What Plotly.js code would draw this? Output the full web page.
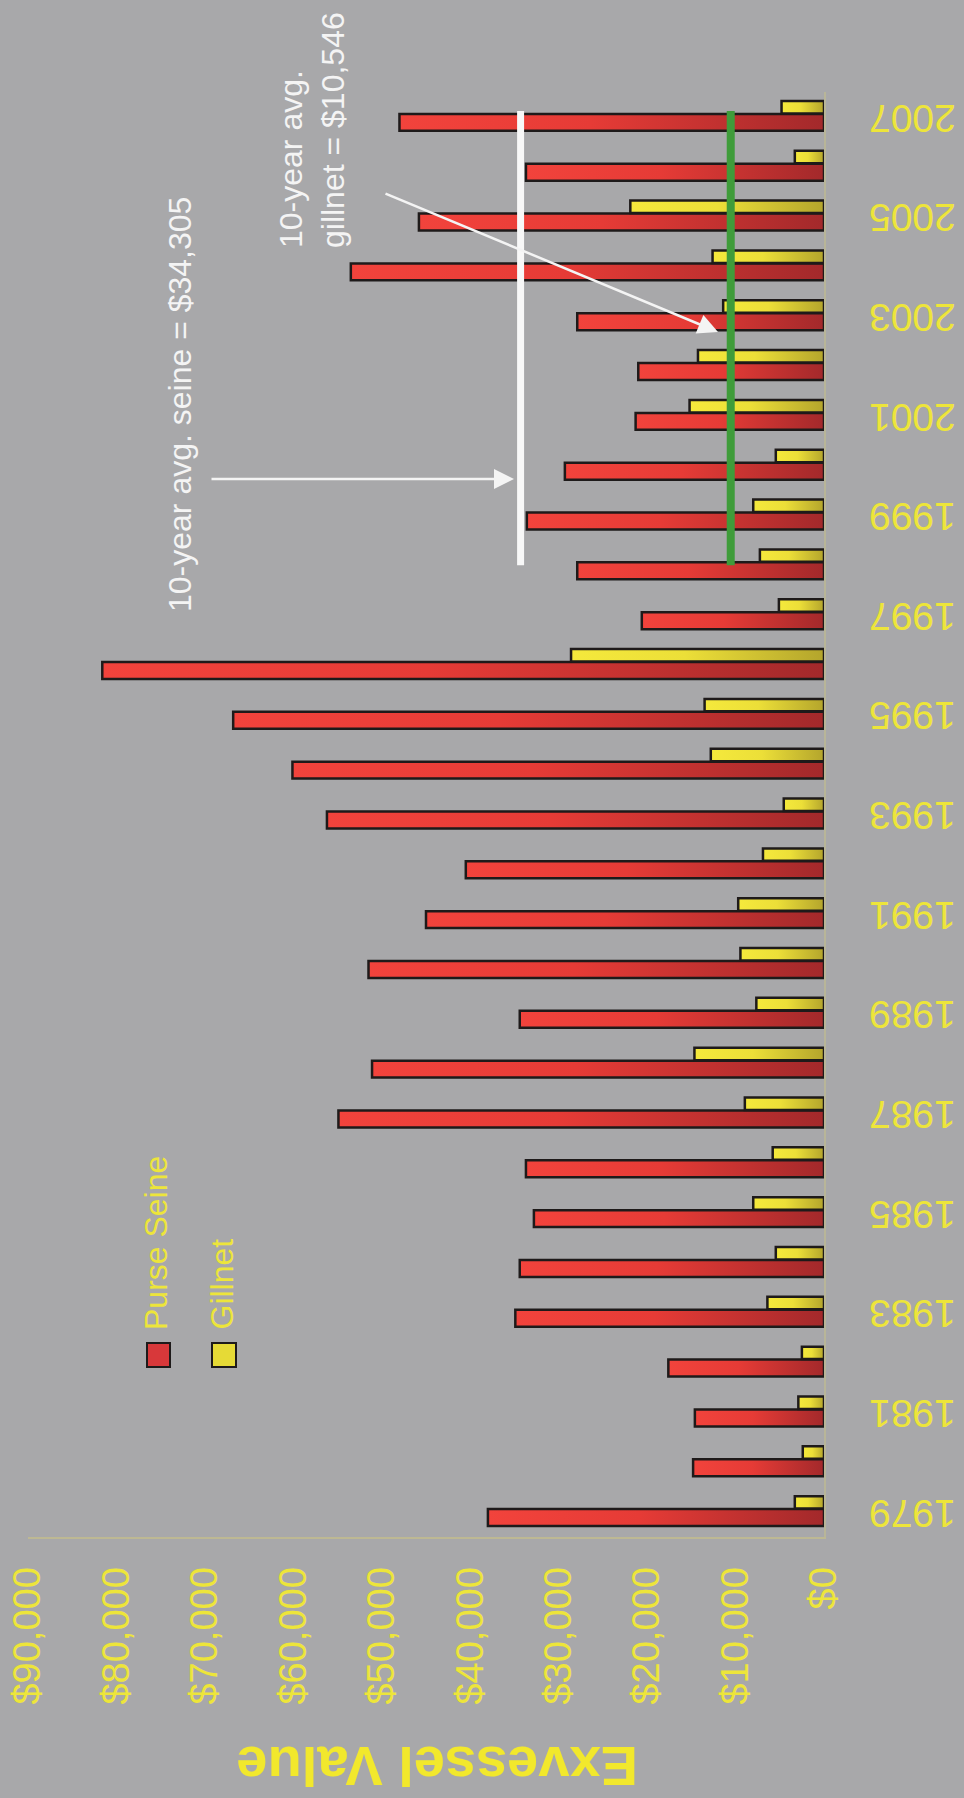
<!DOCTYPE html>
<html>
<head>
<meta charset="utf-8">
<script src="https://cdn.plot.ly/plotly-3.0.1.min.js"></script>
<style>html,body{margin:0;padding:0;background:#a8a8aa;}#chart{width:964px;height:1798px;}</style>
</head>
<body>
<div id="chart"></div>
<script>
// ---- data ----
const years = [1979,1980,1981,1982,1983,1984,1985,1986,1987,1988,1989,1990,1991,1992,1993,1994,1995,1996,1997,1998,1999,2000,2001,2002,2003,2004,2005,2006,2007];
const purseSeine = [38000,14800,14600,17600,34900,34400,32800,33700,54900,51100,34400,51500,45000,40500,56200,60100,66800,81600,20600,27900,33600,29300,21300,21000,27900,53500,45800,33700,48000];
const gillnet = [3300,2400,2900,2500,6400,5450,8000,5800,8950,14650,7650,9450,9700,6900,4550,12800,13500,28600,5100,7250,8000,5450,15200,14250,11400,12600,21900,3300,4800];
const seriesNames = ["Purse Seine","Gillnet"];
const seineAvg = 34305;
const gillnetAvg = 10546;
const avgYears = [1998, 2007];
const valueTicks = [0,10000,20000,30000,40000,50000,60000,70000,80000,90000];
const valueTickText = ["$0","$10,000","$20,000","$30,000","$40,000","$50,000","$60,000","$70,000","$80,000","$90,000"];
const yearTicks = [1979,1981,1983,1985,1987,1989,1991,1993,1995,1997,1999,2001,2003,2005,2007];
const axisTitle = "Exvessel Value";
const seineNote = "10-year avg. seine = $34,305";
const gillnetNote = "10-year avg.<br>gillnet = $10,546";

// ---- layout geometry (pixels) ----
const PL = 28, PR = 824, PT = 92, PB = 1537;
const px = x => (x - PL) / (PR - PL);
const py = y => (PB - y) / (PB - PT);
const FONT = "Liberation Sans, Arial, Helvetica, sans-serif";
const YEL = "#ede53a";
const RED = "#d8383a", YELLOW = "#e6da36";

const traces = [
  {type:"bar", orientation:"h", name:seriesNames[0], x:purseSeine, y:years,
   offset:-0.28, width:0.34,
   marker:{color:RED, line:{color:"#1e1a1a", width:2.5}}, showlegend:false, hoverinfo:"x+y"},
  {type:"bar", orientation:"h", name:seriesNames[1], x:gillnet, y:years,
   offset:0.07, width:0.25,
   marker:{color:YELLOW, line:{color:"#1e1a1a", width:2.5}}, showlegend:false, hoverinfo:"x+y"}
];

const layout = {
  width:964, height:1798,
  paper_bgcolor:"#a8a8aa", plot_bgcolor:"#a8a8aa",
  margin:{l:PL, r:964-PR, t:PT, b:1798-PB, pad:0},
  barmode:"overlay",
  showlegend:false,
  font:{family:FONT, color:YEL},
  xaxis:{range:[90000,0], tickmode:"array", tickvals:valueTicks, ticktext:valueTickText,
    tickangle:-90, tickfont:{size:38, color:YEL, family:FONT},
    showgrid:false, zeroline:false, showline:true, linecolor:"rgba(215,205,120,0.45)", linewidth:2,
    ticks:"", ticklabelstandoff:13, automargin:false, fixedrange:true},
  yaxis:{range:[1978.5,2007.5], tickmode:"array", tickvals:yearTicks, ticktext:yearTicks.map(String), side:"right",
    tickangle:180, tickfont:{size:39, color:YEL, family:FONT},
    showgrid:false, zeroline:false, showline:true, linecolor:"rgba(215,205,120,0.35)", linewidth:2,
    ticks:"", ticklabelstandoff:122, ticklabelshift:13, automargin:false, fixedrange:true},
  shapes:[
    {type:"line", xref:"x", yref:"y", x0:seineAvg, x1:seineAvg, y0:avgYears[0], y1:avgYears[1]+0.12,
     line:{color:"#f8f8f8", width:7}, layer:"above"},
    {type:"line", xref:"x", yref:"y", x0:gillnetAvg, x1:gillnetAvg, y0:avgYears[0], y1:avgYears[1]+0.12,
     line:{color:"#3f9c3a", width:8}, layer:"above"},
    {type:"rect", xref:"paper", yref:"paper", x0:px(147), x1:px(170), y0:py(1367), y1:py(1343),
     fillcolor:RED, line:{color:"#1e1a1a", width:2}},
    {type:"rect", xref:"paper", yref:"paper", x0:px(212), x1:px(236), y0:py(1367), y1:py(1343),
     fillcolor:YELLOW, line:{color:"#1e1a1a", width:2}}
  ],
  annotations:[
    {xref:"paper", yref:"paper", x:px(180), y:py(405), text:seineNote, textangle:-90, showarrow:false,
     xanchor:"center", yanchor:"middle", font:{size:32, color:"#f4f4f4", family:FONT}},
    {xref:"paper", yref:"paper", x:px(312), y:py(130), text:gillnetNote, textangle:-90, showarrow:false,
     align:"left", xanchor:"center", yanchor:"middle", font:{size:32, color:"#f4f4f4", family:FONT}},
    {xref:"paper", yref:"paper", x:px(514), y:py(479), ax:210-514, ay:0, axref:"pixel", ayref:"pixel",
     text:"", showarrow:true, arrowhead:2, arrowsize:1.6, arrowwidth:2.5, arrowcolor:"#f4f4f4", standoff:0},
    {xref:"paper", yref:"paper", x:px(718), y:py(332), ax:384-718, ay:193-332, axref:"pixel", ayref:"pixel",
     text:"", showarrow:true, arrowhead:2, arrowsize:1.6, arrowwidth:2.5, arrowcolor:"#f4f4f4", standoff:0},
    {xref:"paper", yref:"paper", x:px(156), y:py(1332), text:seriesNames[0], textangle:-90, showarrow:false,
     xanchor:"center", yanchor:"bottom", font:{size:32, color:YEL, family:FONT}},
    {xref:"paper", yref:"paper", x:px(221), y:py(1332), text:seriesNames[1], textangle:-90, showarrow:false,
     xanchor:"center", yanchor:"bottom", font:{size:32, color:YEL, family:FONT}},
    {xref:"paper", yref:"paper", x:px(437), y:py(1767), text:"<b>"+axisTitle+"</b>", textangle:180, showarrow:false,
     xanchor:"center", yanchor:"middle", font:{size:56, color:"#f2e82c", family:FONT}}
  ]
};

Plotly.newPlot("chart", traces, layout, {staticPlot:true, displayModeBar:false}).then(gd => {
  try {
    const NS = "http://www.w3.org/2000/svg";
    const svg = gd.querySelector("svg.main-svg");
    let defs = svg.querySelector("defs");
    if (!defs) { defs = document.createElementNS(NS, "defs"); svg.insertBefore(defs, svg.firstChild); }
    function grad(id, stops) {
      const g = document.createElementNS(NS, "linearGradient");
      g.setAttribute("id", id);
      g.setAttribute("x1", "0"); g.setAttribute("x2", "1"); g.setAttribute("y1", "0"); g.setAttribute("y2", "0");
      stops.forEach(([o, c]) => {
        const s = document.createElementNS(NS, "stop");
        s.setAttribute("offset", o); s.setAttribute("stop-color", c); g.appendChild(s);
      });
      defs.appendChild(g);
    }
    grad("gRed", [["0", "#f2433c"], ["0.45", "#e63b36"], ["1", "#a3292b"]]);
    grad("gYel", [["0", "#f5e93c"], ["0.45", "#ecdf38"], ["1", "#b4a52c"]]);
    const bt = gd.querySelectorAll(".barlayer .trace");
    if (bt[0]) bt[0].querySelectorAll("path").forEach(p => p.style.fill = "url(#gRed)");
    if (bt[1]) bt[1].querySelectorAll("path").forEach(p => p.style.fill = "url(#gYel)");
  } catch (e) {}
});
</script>
</body>
</html>
